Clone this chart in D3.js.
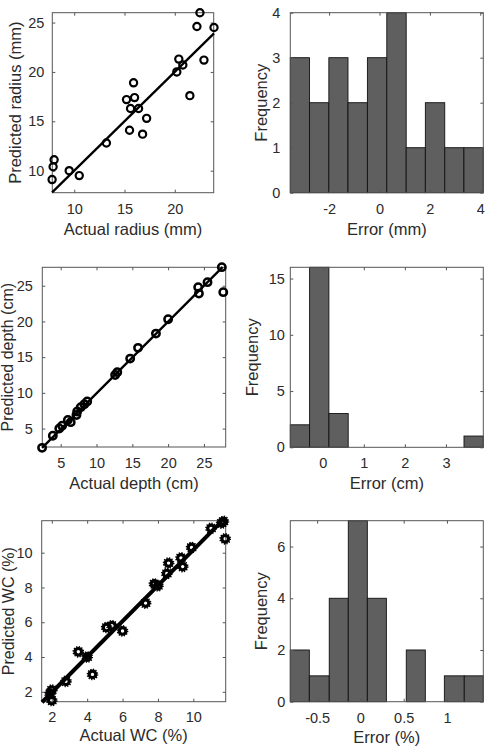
<!DOCTYPE html>
<html><head><meta charset="utf-8">
<script src="https://cdn.jsdelivr.net/npm/d3@7"></script>
<style>
body{margin:0;background:#fff}
svg{display:block}
text{font-family:"Liberation Sans",Arial,Helvetica,sans-serif;fill:#2b2b2b}
</style>
</head><body>
<svg id="c" width="490" height="756"></svg>
<script>
// ---------------- DATA ----------------
const radiusActual    = [22.5,22.2,23.9,22.9,20.4,20.8,20.2,21.5,15.9,15.2,16.0,15.6,16.4,17.2,15.5,16.8,13.2,9.5,10.5,8.0,7.9,7.8];
const radiusPredicted = [26.0,24.6,24.5,21.2,21.3,20.7,20.0,17.6,18.9,17.2,17.4,16.3,16.3,15.3,14.1,13.7,12.8,10.0,9.5,11.1,10.4,9.1];
const radiusFitX = [7.8, 23.9];
const radiusFitY = [7.8, 23.9];

const depthActual    = [2.4,3.9,4.8,5.2,6.0,6.4,7.2,7.3,7.8,8.3,8.7,12.6,12.9,14.7,15.8,18.3,20.0,24.2,24.3,25.5,27.5,27.7];
const depthPredicted = [2.3,4.0,5.0,5.4,6.2,5.9,6.9,7.4,8.0,8.4,8.8,12.5,12.9,14.8,16.3,18.3,20.3,24.8,23.9,25.5,27.6,24.1];
const depthFitX = [2.4, 27.6];
const depthFitY = [2.3, 27.6];

const wcActual    = [2.0,2.0,1.9,2.8,3.5,4.0,4.3,5.1,5.4,6.0,7.3,7.8,8.0,8.5,8.6,9.3,9.4,9.9,11.0,11.6,11.7,11.8];
const wcPredicted = [1.5,2.1,1.9,2.6,4.3,4.0,3.0,5.7,5.8,5.5,7.1,8.2,8.1,8.8,9.4,9.7,9.2,10.3,11.4,11.7,11.8,10.8];
const wcFitX = [1.45, 11.6];
const wcFitY = [1.4, 11.8];

const radiusErrEdges  = [-3.54,-2.78,-2.01,-1.25,-0.48,0.29,1.06,1.82,2.59,3.35,4.12];
const radiusErrCounts = [3,2,3,2,3,4,1,2,1,1];
const depthErrEdges   = [-0.79,-0.32,0.15,0.62,1.09,1.56,2.03,2.50,2.97,3.44,3.91];
const depthErrCounts  = [2,16,3,0,0,0,0,0,0,1];
const wcErrEdges      = [-0.81,-0.59,-0.36,-0.14,0.08,0.30,0.53,0.75,0.97,1.20,1.42];
const wcErrCounts     = [2,1,4,7,4,0,2,0,1,1];

const radiusXTicks = [10,15,20],        radiusYTicks = [10,15,20,25];
const depthXTicks  = [5,10,15,20,25],   depthYTicks  = [5,10,15,20,25];
const wcXTicks     = [2,4,6,8,10],      wcYTicks     = [2,4,6,8,10];
const radiusHistXTicks = [-2,0,2,4],    radiusHistYTicks = [0,1,2,3,4];
const depthHistXTicks  = [0,1,2,3],     depthHistYTicks  = [0,5,10,15];
const wcHistXTicks     = [-0.5,0,0.5,1],wcHistYTicks     = [0,2,4,6];

// ---------------- DRAWING ----------------
const svg = d3.select("#c");
const BOX = "#555";
const TICKFS = 14.5, LABFS = 16.5;

function frame(g, x, y, c, xt, yt) {
  const [l, r] = x.range(), [b, t] = y.range();
  const ax = g.append("g").attr("transform", `translate(0,${b})`)
    .call(d3.axisBottom(x).tickValues(xt).tickSize(-3).tickPadding(c.xpad).tickFormat(d => String(d)));
  const ay = g.append("g").attr("transform", `translate(${l},0)`)
    .call(d3.axisLeft(y).tickValues(yt).tickSize(-3).tickPadding(c.ypad).tickFormat(d => String(d)));
  const at = g.append("g").attr("transform", `translate(0,${t})`)
    .call(d3.axisTop(x).tickValues(xt).tickSize(-3).tickFormat(""));
  const ar = g.append("g").attr("transform", `translate(${r},0)`)
    .call(d3.axisRight(y).tickValues(yt).tickSize(-3).tickFormat(""));
  [ax, ay, at, ar].forEach(a => {
    a.select(".domain").remove();
    a.selectAll("line").attr("stroke", BOX).attr("stroke-width", 1);
    a.selectAll("text").attr("font-size", TICKFS).attr("fill", "#2b2b2b")
      .attr("font-family", '"Liberation Sans",Arial,sans-serif');
  });
  g.append("rect").attr("x", l).attr("y", t).attr("width", r - l).attr("height", b - t)
    .attr("fill", "none").attr("stroke", BOX).attr("stroke-width", 1);
  g.append("text").attr("x", (l + r) / 2).attr("y", c.xlabY).attr("text-anchor", "middle")
    .attr("dominant-baseline", "central").attr("font-size", LABFS).text(c.xlabel);
  g.append("text").attr("transform", `translate(${c.ylabX},${(t + b) / 2}) rotate(-90)`)
    .attr("text-anchor", "middle").attr("font-size", c.ylabFS || LABFS).text(c.ylabel);
}

function scatter(c) {
  const g = svg.append("g");
  const x = d3.scaleLinear().domain(c.xd).range([c.l, c.r]);
  const y = d3.scaleLinear().domain(c.yd).range([c.b, c.t]);
  frame(g, x, y, c, c.xt, c.yt);
  const pts = c.xs.map((v, i) => [v, c.ys[i]]);
  const m = g.append("g");
  if (c.gear) {
    m.selectAll("circle.o").data(pts).join("circle").attr("class", "o")
      .attr("cx", d => x(d[0])).attr("cy", d => y(d[1])).attr("r", 5.0)
      .attr("fill", "none").attr("stroke", "#000").attr("stroke-width", 1.7)
      .attr("stroke-dasharray", "1.2 1.4");
    m.selectAll("circle.i").data(pts).join("circle").attr("class", "i")
      .attr("cx", d => x(d[0])).attr("cy", d => y(d[1])).attr("r", 3.3)
      .attr("fill", "none").attr("stroke", "#000").attr("stroke-width", 3.2);
  } else {
    m.selectAll("circle").data(pts).join("circle")
      .attr("cx", d => x(d[0])).attr("cy", d => y(d[1])).attr("r", c.mr)
      .attr("fill", "none").attr("stroke", "#000").attr("stroke-width", c.mw);
  }
  const line = d3.line().x(d => x(d[0])).y(d => y(d[1]));
  g.append("path").datum(c.fx.map((v, i) => [v, c.fy[i]])).attr("d", line)
    .attr("stroke", "#000").attr("stroke-width", c.lw).attr("fill", "none");
}

function hist(c) {
  const g = svg.append("g");
  const x = d3.scaleLinear().domain([c.edges[0], c.edges[c.edges.length - 1]]).range([c.l, c.r]);
  const y = d3.scaleLinear().domain(c.yd).range([c.b, c.t]);
  const bins = c.counts.map((n, i) => ({ x0: c.edges[i], x1: c.edges[i + 1], n }));
  g.append("g").selectAll("rect").data(bins.filter(d => d.n > 0)).join("rect")
    .attr("x", d => x(d.x0)).attr("width", d => x(d.x1) - x(d.x0))
    .attr("y", d => y(d.n)).attr("height", d => y(0) - y(d.n))
    .attr("fill", "#5f5f5f").attr("stroke", "#111").attr("stroke-width", 0.9);
  frame(g, x, y, c, c.xt, c.yt);
}

// Row 1
scatter({l:52.3, r:213.7, t:12.7, b:192.7, xd:[7.82,23.87], yd:[7.77,26.0],
  xs:radiusActual, ys:radiusPredicted, fx:radiusFitX, fy:radiusFitY, xt:radiusXTicks, yt:radiusYTicks,
  mr:3.6, mw:2.2, lw:2.3, xpad:11, ypad:8, xlabY:229, ylabX:20.5,
  xlabel:"Actual radius (mm)", ylabel:"Predicted radius (mm)"});
hist({l:290.3, r:483.3, t:12.7, b:192.7, yd:[0,4], edges:radiusErrEdges, counts:radiusErrCounts,
  xt:radiusHistXTicks, yt:radiusHistYTicks, xpad:11, ypad:10, xlabY:229, ylabX:266.5,
  xlabel:"Error (mm)", ylabel:"Frequency"});
// Row 2
scatter({l:42.3, r:225.7, t:267.3, b:447, xd:[2.43,28.04], yd:[2.42,27.58],
  xs:depthActual, ys:depthPredicted, fx:depthFitX, fy:depthFitY, xt:depthXTicks, yt:depthYTicks,
  mr:3.7, mw:2.5, lw:2.3, xpad:11, ypad:9.5, xlabY:483, ylabX:13, ylabFS:16,
  xlabel:"Actual depth (cm)", ylabel:"Predicted depth (cm)"});
hist({l:290.3, r:483.3, t:267.3, b:447.3, yd:[0,16], edges:depthErrEdges, counts:depthErrCounts,
  xt:depthHistXTicks, yt:depthHistYTicks, xpad:10, ypad:5.5, xlabY:483, ylabX:258.3,
  xlabel:"Error (cm)", ylabel:"Frequency"});
// Row 3
scatter({l:41.7, r:225.7, t:520.7, b:701.7, xd:[1.43,11.83], yd:[1.43,11.84],
  xs:wcActual, ys:wcPredicted, fx:wcFitX, fy:wcFitY, xt:wcXTicks, yt:wcYTicks,
  gear:true, lw:4, xpad:10.5, ypad:9, xlabY:734.5, ylabX:13.5, ylabFS:16,
  xlabel:"Actual WC (%)", ylabel:"Predicted WC (%)"});
hist({l:290.3, r:483.3, t:520.7, b:701.7, yd:[0,7], edges:wcErrEdges, counts:wcErrCounts,
  xt:wcHistXTicks, yt:wcHistYTicks, xpad:11.5, ypad:5, xlabY:736.5, ylabX:267.3,
  xlabel:"Error (%)", ylabel:"Frequency"});
</script>
</body></html>
